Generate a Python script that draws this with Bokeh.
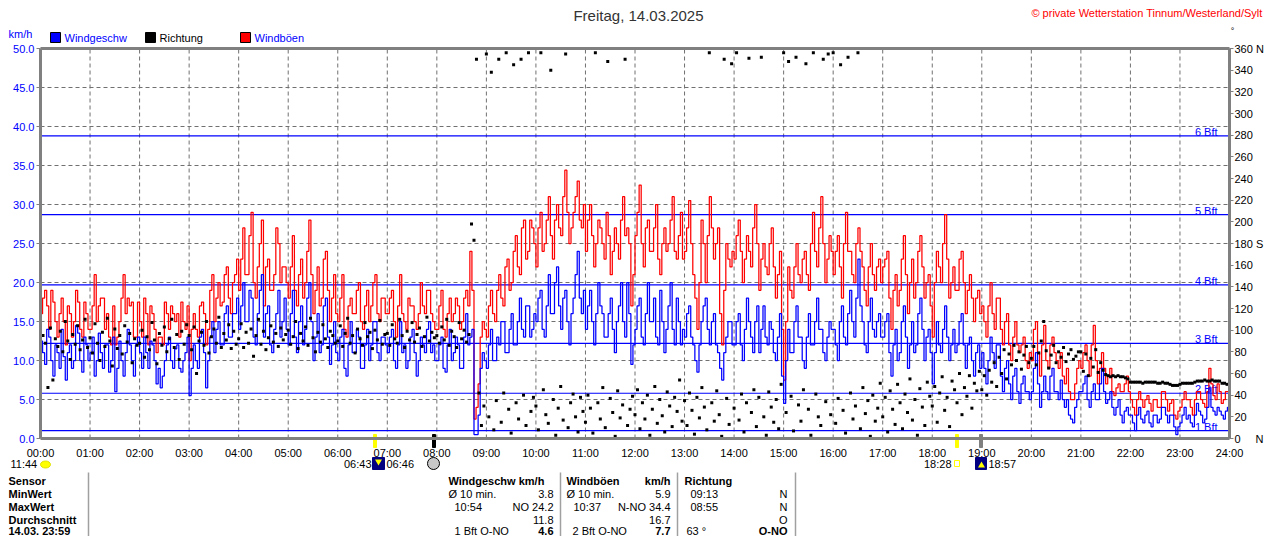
import numpy as np
from bokeh.plotting import figure
from bokeh.models import Range1d, LinearAxis, FixedTicker, PrintfTickFormatter, ColumnDataSource
from bokeh.embed import file_html
from bokeh.resources import INLINE
from bokeh.core.properties import value

FONT = "Liberation Sans"

# ---------------- data ----------------
hour_labels = [f"{h:02d}:00" for h in range(25)]
hour_grid = list(range(1, 24))
speed_ticks = [0, 5, 10, 15, 20, 25, 30, 35, 40, 45, 50]
dir_ticks = list(range(0, 361, 20))
dir_tick_labels = {360: "360 N", 180: "180 S"}
bft_levels = [1.0, 5.8, 12.2, 19.7, 28.7, 38.8]
bft_names = ["1 Bft", "2 Bft", "3 Bft", "4 Bft", "5 Bft", "6 Bft"]

# wind speed km/h, 2.5-minute values 00:00 .. 24:00 (one hour per line)
wind_speed = [
    12.5, 11, 9.5, 14, 13, 10, 8, 12, 11, 9, 14, 10.5, 7.5, 11, 12, 9, 10, 14.5, 13.5, 10, 8.5, 13, 12, 10,
    11, 13, 8, 10, 13.5, 11, 9, 12, 12, 8.5, 10, 13, 6, 9, 12.5, 10, 8, 11, 14, 12, 10, 8, 12, 13,
    11, 9, 13, 11, 9, 12.5, 12, 10, 7, 9, 6.5, 8, 10, 12, 13, 10, 9, 11.5, 12, 9, 8.5, 10, 11, 13,
    5.5, 9, 12, 10, 9, 13, 14, 11, 6.5, 10, 13, 15, 11, 14, 15, 12, 12, 16, 17, 13, 13, 16, 16, 18,
    14, 17, 20, 15, 15, 19, 18, 13, 12, 16, 19, 21, 13, 16, 17, 12, 11, 14, 16, 19, 13, 15, 18, 14,
    12, 16, 19, 13, 11, 15, 17, 12, 14, 18, 20, 15, 10, 13, 16, 11, 12, 17, 18, 13, 9.5, 12, 15, 11,
    10, 13, 14, 9, 8, 12, 15, 11, 11, 14, 13, 9, 9, 12, 14, 10, 12, 15, 15, 11, 10, 13, 13, 12,
    11, 13, 14, 10, 9, 12, 15, 11, 12, 9, 10, 13, 14, 11, 8, 10, 13, 12, 11, 14, 15, 11, 12, 10,
    10, 12, 13, 9, 8.5, 12, 14, 10, 11, 13, 12, 9, 9, 13, 16, 12, 13, 14, 0.5, 0.5, 3, 9, 11, 10,
    9, 12, 14, 10, 10, 13, 12, 15, 15, 11, 11, 14, 16, 12, 12, 15, 18, 14, 13, 17, 17, 13, 14, 16,
    15, 18, 19, 14, 13, 17, 21, 16, 16, 20, 22, 17, 14, 18, 19, 15, 12, 16, 18, 21, 24, 18, 16, 19,
    14, 17, 19, 15, 12, 16, 20, 17, 16, 13, 13, 16, 18, 14, 11, 15, 17, 20, 15, 13, 20, 16, 9.5, 12,
    14, 17, 18, 13, 12, 16, 20, 15, 15, 18, 13, 12, 19, 15, 11, 14, 17, 20, 14, 12, 18, 15, 12, 14,
    13, 16, 17, 13, 12, 10, 8.5, 12, 15, 17, 18, 14, 12, 15, 16, 12, 11, 9, 7.5, 11, 13, 15, 15, 12,
    12, 15, 16, 12, 10, 14, 18, 15, 13, 11, 15, 17, 11, 14, 17, 13, 12, 15, 14, 11, 10, 13, 16, 8,
    4.5, 10, 14, 11, 11, 15, 17, 13, 13, 10, 9, 13, 16, 12, 12, 15, 18, 14, 14, 11, 10, 13, 15, 14,
    14, 12, 10, 15, 17, 13, 12, 16, 19, 15, 13, 18, 23, 17, 15, 12, 11, 15, 18, 14, 13, 15, 16, 13,
    13, 15, 16, 11, 8, 12, 14, 10, 11, 15, 17, 13, 9, 12, 15, 11, 12, 16, 18, 14, 10, 13, 14, 11,
    7, 11, 15, 12, 11, 14, 17, 13, 10, 12, 14, 11, 12, 15, 16, 12, 9, 12, 13, 10, 8, 11, 12, 9,
    11, 9, 7, 10, 13, 11, 9, 12, 12, 8, 6, 9, 10, 7, 5, 8, 9, 6, 4.5, 7, 8, 6, 6, 5,
    6, 9, 11, 7, 4, 6, 8, 6, 5, 8, 9, 6, 6, 5, 7.5, 5, 4, 5, 3, 2.5, 2, 4, 5, 6,
    6, 7, 8, 5, 4, 6, 7, 5, 5, 7, 9, 6, 4.5, 5, 6, 4, 3, 4, 5, 3, 2, 3.5, 4, 3,
    3, 2, 1, 3, 4, 2.5, 2, 3, 3.5, 2, 1.5, 3, 3, 2, 2.5, 4, 4, 3, 2, 3, 3, 1.5, 0.5, 1.5,
    2, 3, 4, 2.5, 3, 2, 1.5, 3, 4.5, 3.5, 3, 2, 2.5, 4, 6.5, 4, 3.5, 3, 4, 3.5, 3, 2.5, 3.5, 4,
    3.5,
]

# wind gusts km/h, 2.5-minute values 00:00 .. 24:00 (one hour per line)
wind_gust = [
    16, 18, 19, 17, 14, 19, 17.5, 15, 13, 16, 18, 15, 12, 17, 16, 13, 15, 19, 17.5, 14, 13, 17.5, 16, 14,
    14, 17, 21, 15, 17, 18, 18, 14, 16, 13, 12, 17, 12, 13, 15, 18, 21, 16, 18, 17, 17.5, 13, 13, 17.5,
    15, 13, 18, 16, 12, 17, 16, 14, 11, 13, 13, 12, 17.5, 16, 14, 17, 16, 15, 16, 13, 17.5, 15, 14, 17,
    10, 14, 16, 14, 13, 17, 17.5, 16, 12, 14, 19, 21, 15, 18, 20, 17, 17.5, 21, 22, 18, 16, 20, 21, 23,
    19, 23, 27, 21, 21, 26, 29, 20, 18, 22, 25, 28, 17, 22, 23, 19, 19, 21, 27, 25, 20, 22, 22, 20,
    18, 22, 26, 19, 17, 21, 23, 18, 20, 24, 28, 21, 16, 19, 22, 17, 18, 23, 24, 19, 15, 18, 21, 16,
    15, 18, 21, 14, 13, 17, 18, 16, 16, 19, 20, 15, 14, 17, 19, 15, 17, 20, 21, 16, 15, 18, 18, 16,
    16, 18, 19, 15, 13, 17, 21, 16, 15, 14, 18, 17, 17, 15, 14, 16, 20, 17, 16, 19, 19, 16, 15, 14,
    14, 17, 19, 14, 13, 16, 18, 15, 16, 18, 17, 14, 15, 18, 19, 17, 24, 19, 2.5, 4, 7, 13, 15, 14,
    13, 17, 19, 16, 15, 19, 21, 18, 17, 22, 23, 19, 20, 24, 26, 22, 21, 27, 28, 23, 24, 28, 27, 25,
    22, 27, 29, 24, 25, 28, 31, 26, 23, 28, 30, 27, 26, 31, 34.4, 29, 25, 27, 29, 31, 33, 28, 27, 30,
    24, 28, 30, 26, 22, 25, 28, 27, 25, 23, 29, 26, 21, 24, 27, 25, 23, 28, 31, 26, 27, 25, 17, 21,
    26, 29, 32.5, 25, 22, 27, 28, 24, 24, 27, 30, 23, 21, 25, 27, 24, 25, 28, 31, 24, 23, 26, 29, 23,
    24, 27, 30.5, 25, 21, 18, 14, 20, 28, 25, 20, 26, 31, 27, 23, 25, 27, 16, 12, 19, 25, 23, 22, 24,
    23, 26, 28, 24, 20, 23, 26, 24, 22, 27, 30, 25, 19, 23, 25, 22, 21, 25, 27, 22, 18, 21, 24, 14,
    7.5, 15, 22, 19, 18, 22, 25, 21, 20, 23, 24, 21, 19, 25, 29, 24, 22, 27, 31, 25, 20, 23, 26, 24,
    21, 24, 26, 22, 18, 25, 29, 24, 24, 21, 20, 25, 27, 24, 22, 19, 17, 22, 25, 21, 19, 22, 23, 20,
    22, 23, 24, 18, 14, 19, 21, 17, 19, 23, 26, 21, 16, 20, 23, 18, 20, 24, 26, 22, 18, 20, 21, 17,
    13, 20, 24, 22, 20, 25, 28.7, 23, 18, 20, 22, 19, 19, 23, 24, 20, 16, 19, 21, 18, 15, 18, 19, 16,
    17, 15, 13, 17, 20, 16, 14, 18, 18, 14, 12, 15, 16, 12, 10, 13, 15, 12, 11, 12, 13, 10, 9, 11,
    10, 14, 15, 11, 8, 12, 14.5, 10, 9, 12, 13, 11, 10, 9, 11, 8, 7, 9, 6, 5, 5, 7, 9, 10,
    9, 11, 12, 10, 8, 12, 14.5, 10, 7, 9, 11, 9, 7, 8, 9, 6, 5.5, 6.5, 7, 6, 6, 7, 8, 6,
    5, 4, 3, 5, 6, 5, 4, 5, 5.5, 4.5, 3.5, 5, 5, 4, 4, 6, 6, 5, 3.5, 4.5, 5, 3, 2.5, 3.5,
    4, 5, 6, 5, 5, 4, 3, 5, 6, 6, 5, 4.5, 4, 6, 9, 7, 5.5, 5, 7, 6, 4.5, 5, 6, 6,
    6,
]

# wind direction in degrees, 3-minute values 00:00 .. 24:00 (one hour per line)
wind_dir = [
    76, 95, 88, 47, 102, 54, 92, 85, 99, 80, 108, 90, 73, 96, 87, 104, 82, 91, 110, 84,
    93, 79, 106, 88, 72, 98, 85, 111, 90, 67, 101, 83, 95, 78, 104, 89, 97, 70, 92, 86,
    88, 100, 75, 94, 82, 107, 91, 69, 97, 86, 103, 80, 92, 110, 84, 96, 73, 99, 87, 105,
    95, 82, 103, 60, 90, 98, 86, 108, 79, 94, 101, 88, 112, 84, 97, 91, 105, 83, 99, 87,
    92, 106, 84, 98, 88, 101, 76, 95, 110, 87, 99, 82, 93, 104, 89, 97, 85, 102, 91, 96,
    100, 87, 94, 108, 83, 97, 90, 103, 86, 111, 93, 80, 98, 89, 105, 92, 84, 99, 95, 88,
    90, 104, 85, 97, 111, 88, 95, 79, 101, 92, 86, 107, 94, 98, 83, 100, 91, 109, 87, 96,
    97, 86, 105, 92, 88, 110, 95, 84, 99, 91, 107, 89, 96, 102, 85, 94, 112, 90, 98, 93,
    95, 88, 103, 91, 110, 86, 99, 94, 84, 107, 92, 100, 89, 96, 198, 183, 350, 42, 12, 30,
    355, 20, 338, 8, 35, 350, 15, 42, 356, 27, 5, 345, 33, 18, 350, 40, 12, 356, 25, 38,
    30, 8, 356, 45, 22, 14, 340, 36, 3, 28, 48, 17, 355, 10, 33, 41, 20, 6, 38, 25,
    15, 40, 28, 5, 356, 33, 18, 47, 10, 348, 37, 24, 2, 44, 19, 31, 350, 12, 27, 39,
    22, 45, 9, 33, 18, 40, 3, 27, 48, 14, 36, 21, 6, 43, 30, 11, 38, 25, 54, 16,
    35, 12, 42, 26, 4, 38, 19, 47, 29, 8, 356, 33, 16, 44, 22, 2, 350, 37, 13, 346,
    28, 356, 17, 41, 6, 33, 351, 24, 45, 11, 38, 352, 20, 3, 43, 29, 15, 36, 9, 50,
    356, 24, 348, 39, 7, 352, 31, 16, 45, 346, 27, 3, 356, 41, 20, 12, 350, 34, 355, 22,
    356, 14, 37, 345, 26, 5, 352, 42, 18, 30, 356, 9, 47, 23, 35, 2, 40, 16, 28, 51,
    20, 38, 6, 44, 27, 13, 50, 33, 9, 41, 24, 55, 17, 36, 3, 46, 29, 12, 52, 39,
    30, 48, 15, 42, 57, 26, 38, 11, 53, 45, 33, 60, 22, 47, 39, 58, 28, 51, 44, 62,
    45, 58, 40, 63, 52, 70, 48, 75, 60, 82, 55, 78, 68, 86, 72, 80, 64, 77, 85, 70,
    74, 85, 68, 79, 90, 108, 81, 65, 77, 86, 70, 80, 75, 84, 71, 78, 82, 73, 76, 80,
    80, 62, 78, 58, 74, 66, 82, 61, 70, 63, 59, 58, 57, 58, 57, 58, 57, 57, 56, 55,
    52, 52, 52, 52, 52, 51, 52, 52, 52, 52, 52, 51, 51, 52, 51, 51, 50, 49, 49, 49,
    50, 51, 51, 51, 51, 51, 52, 53, 53, 53, 54, 53, 53, 54, 53, 53, 53, 51, 51, 50,
    64,
]

sun_times = ["11:44", "06:43", "06:46", "18:28", "18:57"]

table_rows = ["Sensor", "MinWert", "MaxWert", "Durchschnitt", "14.03. 23:59"]
speed_left = ["Windgeschw km/h", "Ø 10 min.", "10:54", "", "1 Bft O-NO"]
speed_right = ["", "3.8", "NO 24.2", "11.8", "4.6"]
gust_left = ["Windböen", "Ø 10 min.", "10:37", "", "2 Bft O-NO"]
gust_right = ["km/h", "5.9", "N-NO 34.4", "16.7", "7.7"]
dir_left = ["Richtung", "09:13", "08:55", "", "63 °"]
dir_right = ["", "N", "N", "O", "O-NO"]

# ---------------- layout ----------------
W, H = 1264, 536
X0, X1, Y0, Y1 = 40, 1229, 438, 48     # plot box in page pixels


def hx(px):
    return (px - X0) * 24.0 / (X1 - X0)


def ky(py):
    return (Y0 - py) * 50.0 / (Y0 - Y1)


GRAY = "#808080"
BLUE = "#0000ff"
RED = "#ff0000"

p = figure(width=W, height=H, title=None,
           x_range=Range1d(hx(0), hx(W)), y_range=Range1d(ky(H), ky(0)),
           output_backend="svg", toolbar_location=None,
           min_border=0, min_border_left=0, min_border_right=0,
           min_border_top=0, min_border_bottom=0,
           background_fill_color="white", border_fill_color="white")
p.outline_line_color = None
p.grid.visible = False
p.extra_x_ranges = {"px": Range1d(0, W)}
p.extra_y_ranges = {"px": Range1d(H, 0), "dir": Range1d(ky(H) * 7.2, ky(0) * 7.2)}
PX = dict(x_range_name="px", y_range_name="px")

# axes (fixed at the plot box edges)
xa = p.xaxis[0]
xa.fixed_location = 0
xa.bounds = (0, 24)
xa.ticker = FixedTicker(ticks=list(range(25)))
xa.major_label_overrides = {h: hour_labels[h] for h in range(25)}
xa.major_tick_out = 0
xa.major_tick_in = 0
xa.minor_tick_out = 0
xa.minor_tick_in = 0
xa.major_label_standoff = 8
xa.axis_line_color = GRAY
xa.axis_line_width = 3
xa.major_label_text_font = FONT
xa.major_label_text_font_size = "11px"
xa.major_label_text_color = "black"

ya = p.yaxis[0]
ya.fixed_location = 0
ya.bounds = (0, 50)
ya.ticker = FixedTicker(ticks=speed_ticks)
ya.formatter = PrintfTickFormatter(format="%.1f")
ya.major_tick_out = 4
ya.major_tick_in = 0
ya.minor_tick_out = 0
ya.minor_tick_in = 0
ya.major_label_standoff = 2
ya.major_tick_line_color = GRAY
ya.axis_line_color = GRAY
ya.axis_line_width = 3
ya.major_label_text_font = FONT
ya.major_label_text_font_size = "11px"
ya.major_label_text_color = BLUE

ra = LinearAxis(y_range_name="dir", fixed_location=24, bounds=(0, 360),
                ticker=FixedTicker(ticks=dir_ticks), major_label_overrides=dir_tick_labels)
ra.major_tick_out = 4
ra.major_tick_in = 0
ra.minor_tick_out = 0
ra.minor_tick_in = 0
ra.major_label_standoff = 1
ra.major_tick_line_color = GRAY
ra.axis_line_color = GRAY
ra.axis_line_width = 3
ra.major_label_text_font = FONT
ra.major_label_text_font_size = "11px"
ra.major_label_text_color = "black"
p.add_layout(ra, "right")

# dashed grid inside the plot box
p.segment(x0=hour_grid, y0=[0] * len(hour_grid), x1=hour_grid, y1=[50] * len(hour_grid),
          line_color="#707070", line_dash="4 3", line_width=1)
inner = speed_ticks[1:-1]
p.segment(x0=[0] * len(inner), y0=inner, x1=[24] * len(inner), y1=inner,
          line_color="#707070", line_dash="4 3", line_width=1)

# Beaufort lines and labels
p.segment(x0=[0] * len(bft_levels), y0=bft_levels, x1=[24] * len(bft_levels), y1=bft_levels,
          line_color=BLUE, line_width=1.2)
p.text(x=[hx(1217)] * len(bft_levels), y=[v + 4 * 50.0 / 390 for v in bft_levels],
       text=bft_names, text_font=value(FONT), text_font_size="11px", text_color=BLUE,
       text_align="right", text_baseline="alphabetic")

# data series
t_spd = np.linspace(0, 24, len(wind_speed))
t_gst = np.linspace(0, 24, len(wind_gust))
t_dir = np.linspace(0, 24, len(wind_dir))
p.step(t_gst, wind_gust, mode="after", line_color=RED, line_width=1.25)
p.step(t_spd, wind_speed, mode="after", line_color=BLUE, line_width=1.25)
p.scatter(t_dir, wind_dir, marker="square", size=3, fill_color="black", line_color=None,
          y_range_name="dir")

# plot box top line
p.segment(x0=[0], y0=[50], x1=[24], y1=[50], line_color=GRAY, line_width=3)


def ptext(xs, ys, texts, color="black", size=11, align="left", bold=False):
    keep = [(x, y, s) for x, y, s in zip(xs, ys, texts) if s]
    if not keep:
        return
    src = ColumnDataSource(dict(x=[k[0] for k in keep], y=[k[1] for k in keep],
                                text=[k[2] for k in keep]))
    p.text(x="x", y="y", text="text", source=src, text_font=value(FONT),
           text_font_size=f"{size}px", text_align=align, text_baseline="middle",
           text_color=color, text_font_style="bold" if bold else "normal", **PX)


def pbox(x0, x1, y0, y1, fill, line=None, falpha=1.0):
    p.quad(left=[x0], right=[x1], top=[y0], bottom=[y1], fill_color=fill, fill_alpha=falpha,
           line_color=line if line else fill, line_width=1, **PX)


# title + copyright
ptext([638], [15], ["Freitag, 14.03.2025"], color="#333333", size=15, align="center")
ptext([1262], [12], ["© private Wetterstation Tinnum/Westerland/Sylt"], color=RED, align="right")
ptext([1232], [30], ["°"], size=9, align="center")

# legend
ptext([8], [33], ["km/h"], color=BLUE)
pbox(50, 60, 32, 42, BLUE, "black")
ptext([64], [37], ["Windgeschw"], color=BLUE)
pbox(145, 155, 32, 42, "black", "black")
ptext([159], [37], ["Richtung"])
pbox(240, 250, 32, 42, RED, "black")
ptext([254], [37], ["Windböen"], color=BLUE)

# compass letter at bottom of right axis
ptext([1255], [438], ["N"])

# sun / moon markers under the axis
pbox(373, 376, 434, 447, "#ffff00")
pbox(432, 435, 434, 447, "black")
pbox(955, 958, 434, 447, "#ffff00")
pbox(979, 982, 434, 447, GRAY)

ptext([10], [463], [sun_times[0]])
p.ellipse(x=[45], y=[464], width=[10], height=[7], fill_color="#ffff00", line_color="#e0e000", **PX)
ptext([371], [463], [sun_times[1]], align="right")
pbox(372, 384, 457, 469, "#000080")
p.scatter(x=[378], y=[461], marker="inverted_triangle", size=7, fill_color="#ffff00",
          line_color=None, **PX)
ptext([386], [463], [sun_times[2]])
p.scatter(x=[433], y=[463], marker="circle", size=12, fill_color="#c8c8c8",
          line_color="black", line_width=1, **PX)
ptext([951], [463], [sun_times[3]], align="right")
pbox(954, 959, 460, 466, "white", "#ffff00")
pbox(975, 986, 457, 469, "#000080")
p.scatter(x=[981], y=[465], marker="triangle", size=7, fill_color="#ffff00",
          line_color=None, **PX)
ptext([988], [463], [sun_times[4]])

# ---------------- table ----------------
row_y = [480, 493, 506, 519, 530]
sep_x = [88, 560, 677, 795]
p.segment(x0=sep_x, y0=[472] * 4, x1=sep_x, y1=[H] * 4, line_color="#a0a0a0",
          line_width=1.5, **PX)

ptext([8] * 5, row_y, table_rows, bold=True)
ptext([448, 566, 684], [row_y[0]] * 3, [speed_left[0], gust_left[0], dir_left[0]], bold=True)
ptext([670], [row_y[0]], [gust_right[0]], align="right", bold=True)
ptext([448, 454, 454, 454], row_y[1:], speed_left[1:])
ptext([566, 573, 573, 572], row_y[1:], gust_left[1:])
ptext([690, 690, 690, 686], row_y[1:], dir_left[1:])
ptext([553] * 3, row_y[1:4], speed_right[1:4], align="right")
ptext([670] * 3, row_y[1:4], gust_right[1:4], align="right")
ptext([787] * 3, row_y[1:4], dir_right[1:4], align="right")
ptext([553, 670, 787], [row_y[4]] * 3, [speed_right[4], gust_right[4], dir_right[4]],
      align="right", bold=True)

open("out.html", "w").write(file_html(p, INLINE))
